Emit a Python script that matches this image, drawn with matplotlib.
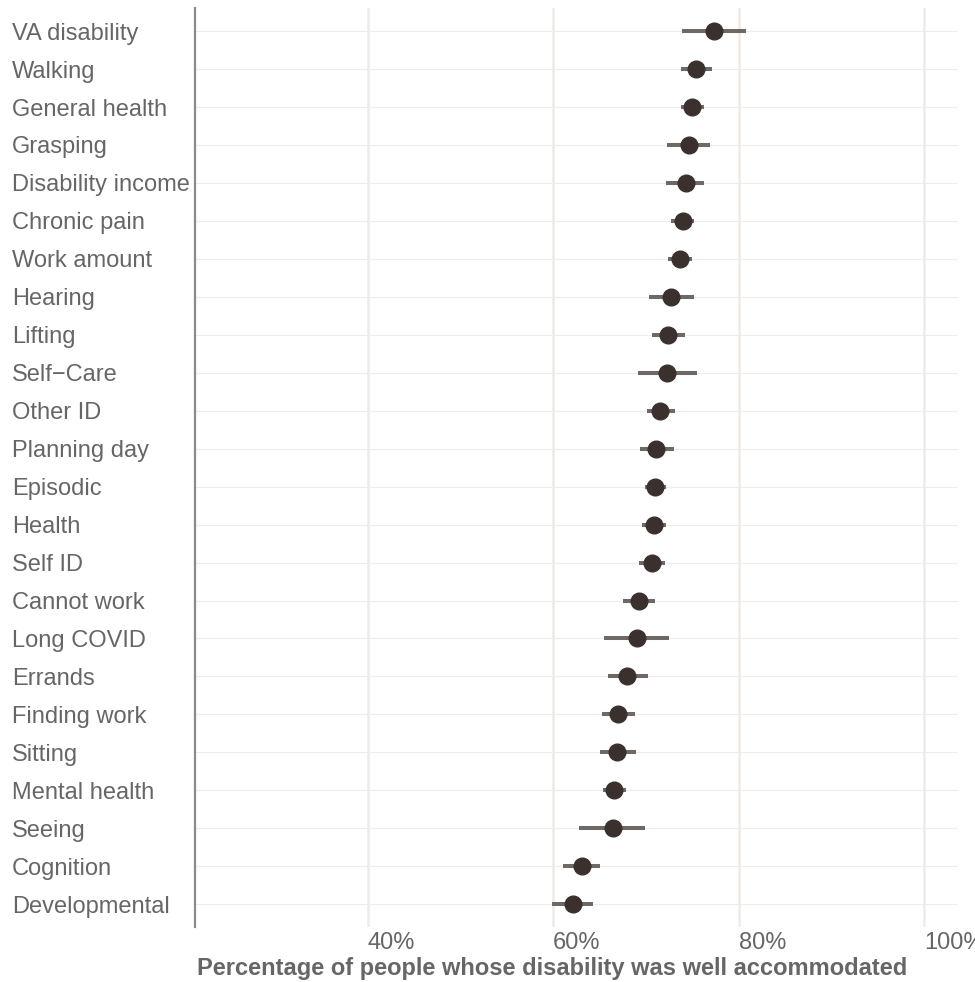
import matplotlib.pyplot as plt
import numpy as np

plt.rcParams['font.family'] = ['Liberation Sans', 'DejaVu Sans']

categories = ["VA disability", "Walking", "General health", "Grasping",
              "Disability income", "Chronic pain", "Work amount", "Hearing",
              "Lifting", "Self\u2212Care", "Other ID", "Planning day", "Episodic",
              "Health", "Self ID", "Cannot work", "Long COVID", "Errands",
              "Finding work", "Sitting", "Mental health", "Seeing", "Cognition",
              "Developmental"]
estimate = [77.3, 75.4, 75.0, 74.6, 74.3, 74.0, 73.7, 72.7, 72.4, 72.3, 71.5,
            71.1, 71.0, 70.9, 70.7, 69.2, 69.0, 68.0, 67.0, 66.9, 66.6, 66.4,
            63.1, 62.1]
lower = [73.9, 73.8, 73.8, 72.3, 72.2, 72.7, 72.4, 70.3, 70.6, 69.1, 70.1,
         69.4, 69.9, 69.6, 69.3, 67.5, 65.5, 65.9, 65.3, 65.0, 65.4, 62.8,
         61.1, 59.9]
upper = [80.8, 77.1, 76.3, 76.9, 76.3, 75.2, 75.0, 75.2, 74.2, 75.5, 73.1,
         73.0, 72.2, 72.2, 72.1, 71.0, 72.5, 70.2, 68.8, 68.9, 67.8, 69.9,
         65.1, 64.3]
xticks = [40, 60, 80, 100]
xticklabels = ["40%", "60%", "80%", "100%"]

fig = plt.figure(figsize=(9.75, 9.82), dpi=100)
ax = fig.add_axes([195 / 975, 1 - 927 / 982, (958 - 195) / 975, (927 - 8.3) / 982])

y = np.arange(len(categories))

# grid
for xv in xticks:
    ax.axvline(xv, color='#eeeae7', lw=1.8, zorder=0)
for yv in y:
    ax.axhline(yv, color='#efecea', lw=0.8, zorder=0)

ax.hlines(y, lower, upper, color='#6e6867', lw=2.9, zorder=2)
ax.plot(estimate, y, 'o', color='#3a302d', markersize=12, zorder=3)

ax.set_xlim(21.41, 103.62)
ax.set_ylim(23.6, -0.6)

ax.set_yticks(y)
ax.set_yticklabels(categories, fontsize=17, color='#666666')
for lab in ax.get_yticklabels():
    lab.set_horizontalalignment('left')
ax.tick_params(axis='y', length=0, pad=183 * 0.72)

ax.set_xticks(xticks)
ax.set_xticklabels(xticklabels, fontsize=17, color='#666666')
for lab in ax.get_xticklabels():
    lab.set_horizontalalignment('left')
ax.tick_params(axis='x', length=0, pad=3.5)

for s in ['top', 'right', 'bottom']:
    ax.spines[s].set_visible(False)
ax.spines['left'].set_color('#8a8a8a')
ax.spines['left'].set_linewidth(1.6)

fig.text(552 / 975, 1 - 975 / 982, "Percentage of people whose disability was well accommodated",
         ha='center', va='baseline', fontsize=17, fontweight='bold', color='#666666')

fig.savefig('out.png', dpi=100)
